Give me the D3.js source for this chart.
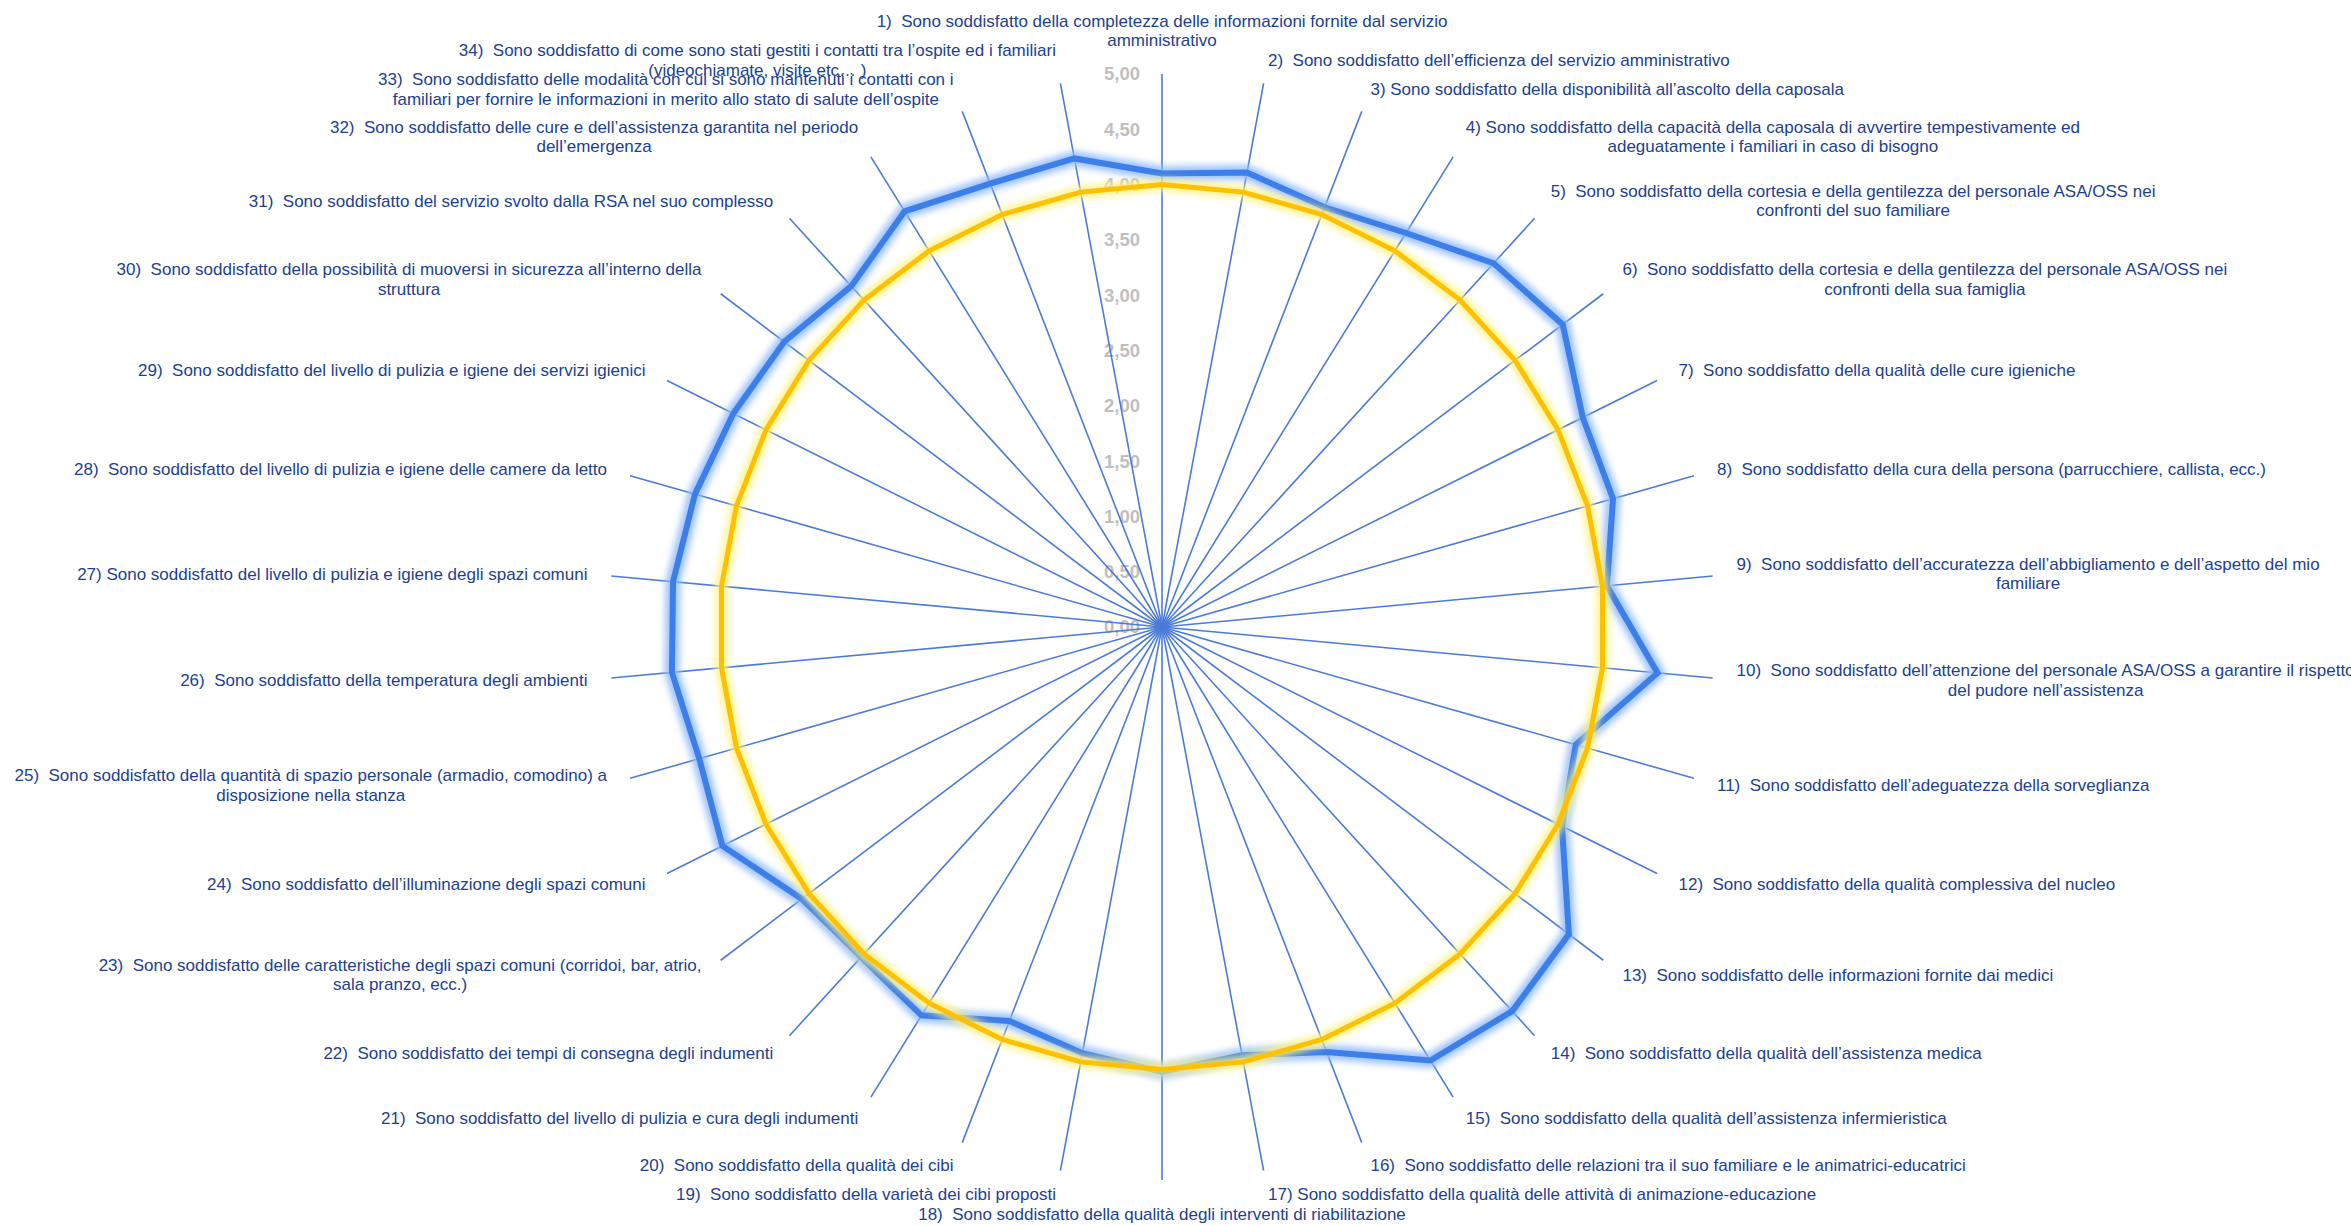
<!DOCTYPE html>
<html>
<head>
<meta charset="utf-8">
<script src="https://cdn.jsdelivr.net/npm/d3@7"></script>
<style>
  html, body { margin: 0; padding: 0; background: #ffffff; }
  svg { display: block; }
  .lbl { font-family: "Liberation Sans", Arial, sans-serif; font-size: 17px; fill: #213f8f; white-space: pre; }
  .tick text { font-family: "Liberation Sans", Arial, sans-serif; font-size: 18.5px; font-weight: bold; fill: #bfbfbf; }
</style>
</head>
<body>
<script>
// ---------------- DATA ----------------
const categories = [
  "1)  Sono soddisfatto della completezza delle informazioni fornite dal servizio\namministrativo",
  "2)  Sono soddisfatto dell’efficienza del servizio amministrativo",
  "3) Sono soddisfatto della disponibilità all’ascolto della caposala",
  "4) Sono soddisfatto della capacità della caposala di avvertire tempestivamente ed\nadeguatamente i familiari in caso di bisogno",
  "5)  Sono soddisfatto della cortesia e della gentilezza del personale ASA/OSS nei\nconfronti del suo familiare",
  "6)  Sono soddisfatto della cortesia e della gentilezza del personale ASA/OSS nei\nconfronti della sua famiglia",
  "7)  Sono soddisfatto della qualità delle cure igieniche",
  "8)  Sono soddisfatto della cura della persona (parrucchiere, callista, ecc.)",
  "9)  Sono soddisfatto dell’accuratezza dell’abbigliamento e dell’aspetto del mio\nfamiliare",
  "10)  Sono soddisfatto dell’attenzione del personale ASA/OSS a garantire il rispetto\ndel pudore nell’assistenza",
  "11)  Sono soddisfatto dell’adeguatezza della sorveglianza",
  "12)  Sono soddisfatto della qualità complessiva del nucleo",
  "13)  Sono soddisfatto delle informazioni fornite dai medici",
  "14)  Sono soddisfatto della qualità dell’assistenza medica",
  "15)  Sono soddisfatto della qualità dell’assistenza infermieristica",
  "16)  Sono soddisfatto delle relazioni tra il suo familiare e le animatrici-educatrici",
  "17) Sono soddisfatto della qualità delle attività di animazione-educazione",
  "18)  Sono soddisfatto della qualità degli interventi di riabilitazione",
  "19)  Sono soddisfatto della varietà dei cibi proposti",
  "20)  Sono soddisfatto della qualità dei cibi",
  "21)  Sono soddisfatto del livello di pulizia e cura degli indumenti",
  "22)  Sono soddisfatto dei tempi di consegna degli indumenti",
  "23)  Sono soddisfatto delle caratteristiche degli spazi comuni (corridoi, bar, atrio,\nsala pranzo, ecc.)",
  "24)  Sono soddisfatto dell’illuminazione degli spazi comuni",
  "25)  Sono soddisfatto della quantità di spazio personale (armadio, comodino) a\ndisposizione nella stanza",
  "26)  Sono soddisfatto della temperatura degli ambienti",
  "27) Sono soddisfatto del livello di pulizia e igiene degli spazi comuni",
  "28)  Sono soddisfatto del livello di pulizia e igiene delle camere da letto",
  "29)  Sono soddisfatto del livello di pulizia e igiene dei servizi igienici",
  "30)  Sono soddisfatto della possibilità di muoversi in sicurezza all’interno della\nstruttura",
  "31)  Sono soddisfatto del servizio svolto dalla RSA nel suo complesso",
  "32)  Sono soddisfatto delle cure e dell’assistenza garantita nel periodo\ndell’emergenza",
  "33)  Sono soddisfatto delle modalità con cui si sono mantenuti i contatti con i\nfamiliari per fornire le informazioni in merito allo stato di salute dell’ospite",
  "34)  Sono soddisfatto di come sono stati gestiti i contatti tra l’ospite ed i familiari\n(videochiamate, visite etc… )"
];

const seriesResults = [4.10, 4.18, 4.07, 4.19, 4.45, 4.54, 4.25, 4.24, 4.04, 4.50,
                       3.89, 4.04, 4.61, 4.70, 4.61, 4.12, 3.94, 4.02, 3.92, 3.82,
                       4.13, 4.04, 4.08, 4.44, 4.35, 4.45, 4.44, 4.39, 4.33, 4.28,
                       4.17, 4.42, 4.30, 4.31];

const seriesTarget = [4, 4, 4, 4, 4, 4, 4, 4, 4, 4,
                      4, 4, 4, 4, 4, 4, 4, 4, 4, 4,
                      4, 4, 4, 4, 4, 4, 4, 4, 4, 4,
                      4, 4, 4, 4];

const tickValues = [0, 0.5, 1, 1.5, 2, 2.5, 3, 3.5, 4, 4.5, 5];

// ---------------- LAYOUT ----------------
const W = 2351, H = 1225;
const cx = 1162, cy = 627, R = 553;
const labelR = 577;
const lineH = 19.5;

const svg = d3.select("body").append("svg").attr("width", W).attr("height", H);
svg.append("rect").attr("width", W).attr("height", H).attr("fill", "#ffffff");

const defs = svg.append("defs");
const fBlue = defs.append("filter").attr("id", "glowBlue").attr("x", "-10%").attr("y", "-10%").attr("width", "120%").attr("height", "120%");
fBlue.append("feGaussianBlur").attr("stdDeviation", 3.2);
const fYel = defs.append("filter").attr("id", "glowYel").attr("x", "-10%").attr("y", "-10%").attr("width", "120%").attr("height", "120%");
fYel.append("feGaussianBlur").attr("stdDeviation", 3);

const n = categories.length;
const rScale = d3.scaleLinear().domain([0, 5]).range([0, R]);
const aScale = d3.scaleLinear().domain([0, n]).range([0, 2 * Math.PI]);

const g = svg.append("g").attr("transform", `translate(${cx},${cy})`);

// Value axis tick labels (vertical axis) via d3.axisLeft
const yAxisScale = d3.scaleLinear().domain([0, 5]).range([0, -R]);
const itFmt = d3.formatLocale({ decimal: ",", thousands: ".", grouping: [3], currency: ["", "€"] }).format(".2f");
const axis = d3.axisLeft(yAxisScale).tickValues(tickValues).tickFormat(itFmt).tickSize(0).tickPadding(22);
const axG = g.append("g").call(axis);
axG.select(".domain").remove();
axG.selectAll("text").attr("fill", "#bfbfbf");

// Spokes
g.append("g").selectAll("line").data(categories).join("line")
  .attr("x1", 0).attr("y1", 0)
  .attr("x2", (d, i) => rScale(5) * Math.sin(aScale(i)))
  .attr("y2", (d, i) => -rScale(5) * Math.cos(aScale(i)))
  .attr("stroke", "#4a7bd8").attr("stroke-width", 1.6);

// Series lines
const radial = d3.lineRadial()
  .angle((d, i) => aScale(i))
  .radius(d => rScale(d))
  .curve(d3.curveLinearClosed);

// Blue series (results)
g.append("path").attr("d", radial(seriesResults))
  .attr("fill", "none").attr("stroke", "#8fbaff").attr("stroke-width", 15)
  .attr("stroke-linejoin", "round").attr("opacity", 0.85).attr("filter", "url(#glowBlue)");
g.append("path").attr("d", radial(seriesResults))
  .attr("fill", "none").attr("stroke", "#3d7fe8").attr("stroke-width", 6)
  .attr("stroke-linejoin", "miter");

// Yellow series (target)
g.append("path").attr("d", radial(seriesTarget))
  .attr("fill", "none").attr("stroke", "#fff27a").attr("stroke-width", 13)
  .attr("stroke-linejoin", "round").attr("opacity", 0.8).attr("filter", "url(#glowYel)");
g.append("path").attr("d", radial(seriesTarget))
  .attr("fill", "none").attr("stroke", "#ffc000").attr("stroke-width", 5)
  .attr("stroke-linejoin", "miter");

// Category labels
const lg = svg.append("g");
categories.forEach((txt, i) => {
  const lines = txt.split("\n");
  const th = aScale(i);
  const s = Math.sin(th), c = Math.cos(th);
  const px = cx + labelR * s, py = cy - labelR * c;
  const t = lg.append("text").attr("class", "lbl");
  const tsp = t.selectAll("tspan").data(lines).join("tspan").text(d => d);
  let bw = 0;
  tsp.each(function () { bw = Math.max(bw, this.getComputedTextLength()); });
  const bh = lines.length * lineH;
  let left, top;
  if (Math.abs(s) < 1e-6) {
    left = px - bw / 2;
    top = c > 0 ? py - bh : py;
  } else {
    left = s > 0 ? px : px - bw;
    top = py - bh / 2;
  }
  t.attr("text-anchor", "middle");
  tsp.attr("x", left + bw / 2)
     .attr("y", (d, k) => top + lineH * (k + 0.5))
     .attr("dy", "0.35em");
});
</script>
</body>
</html>
